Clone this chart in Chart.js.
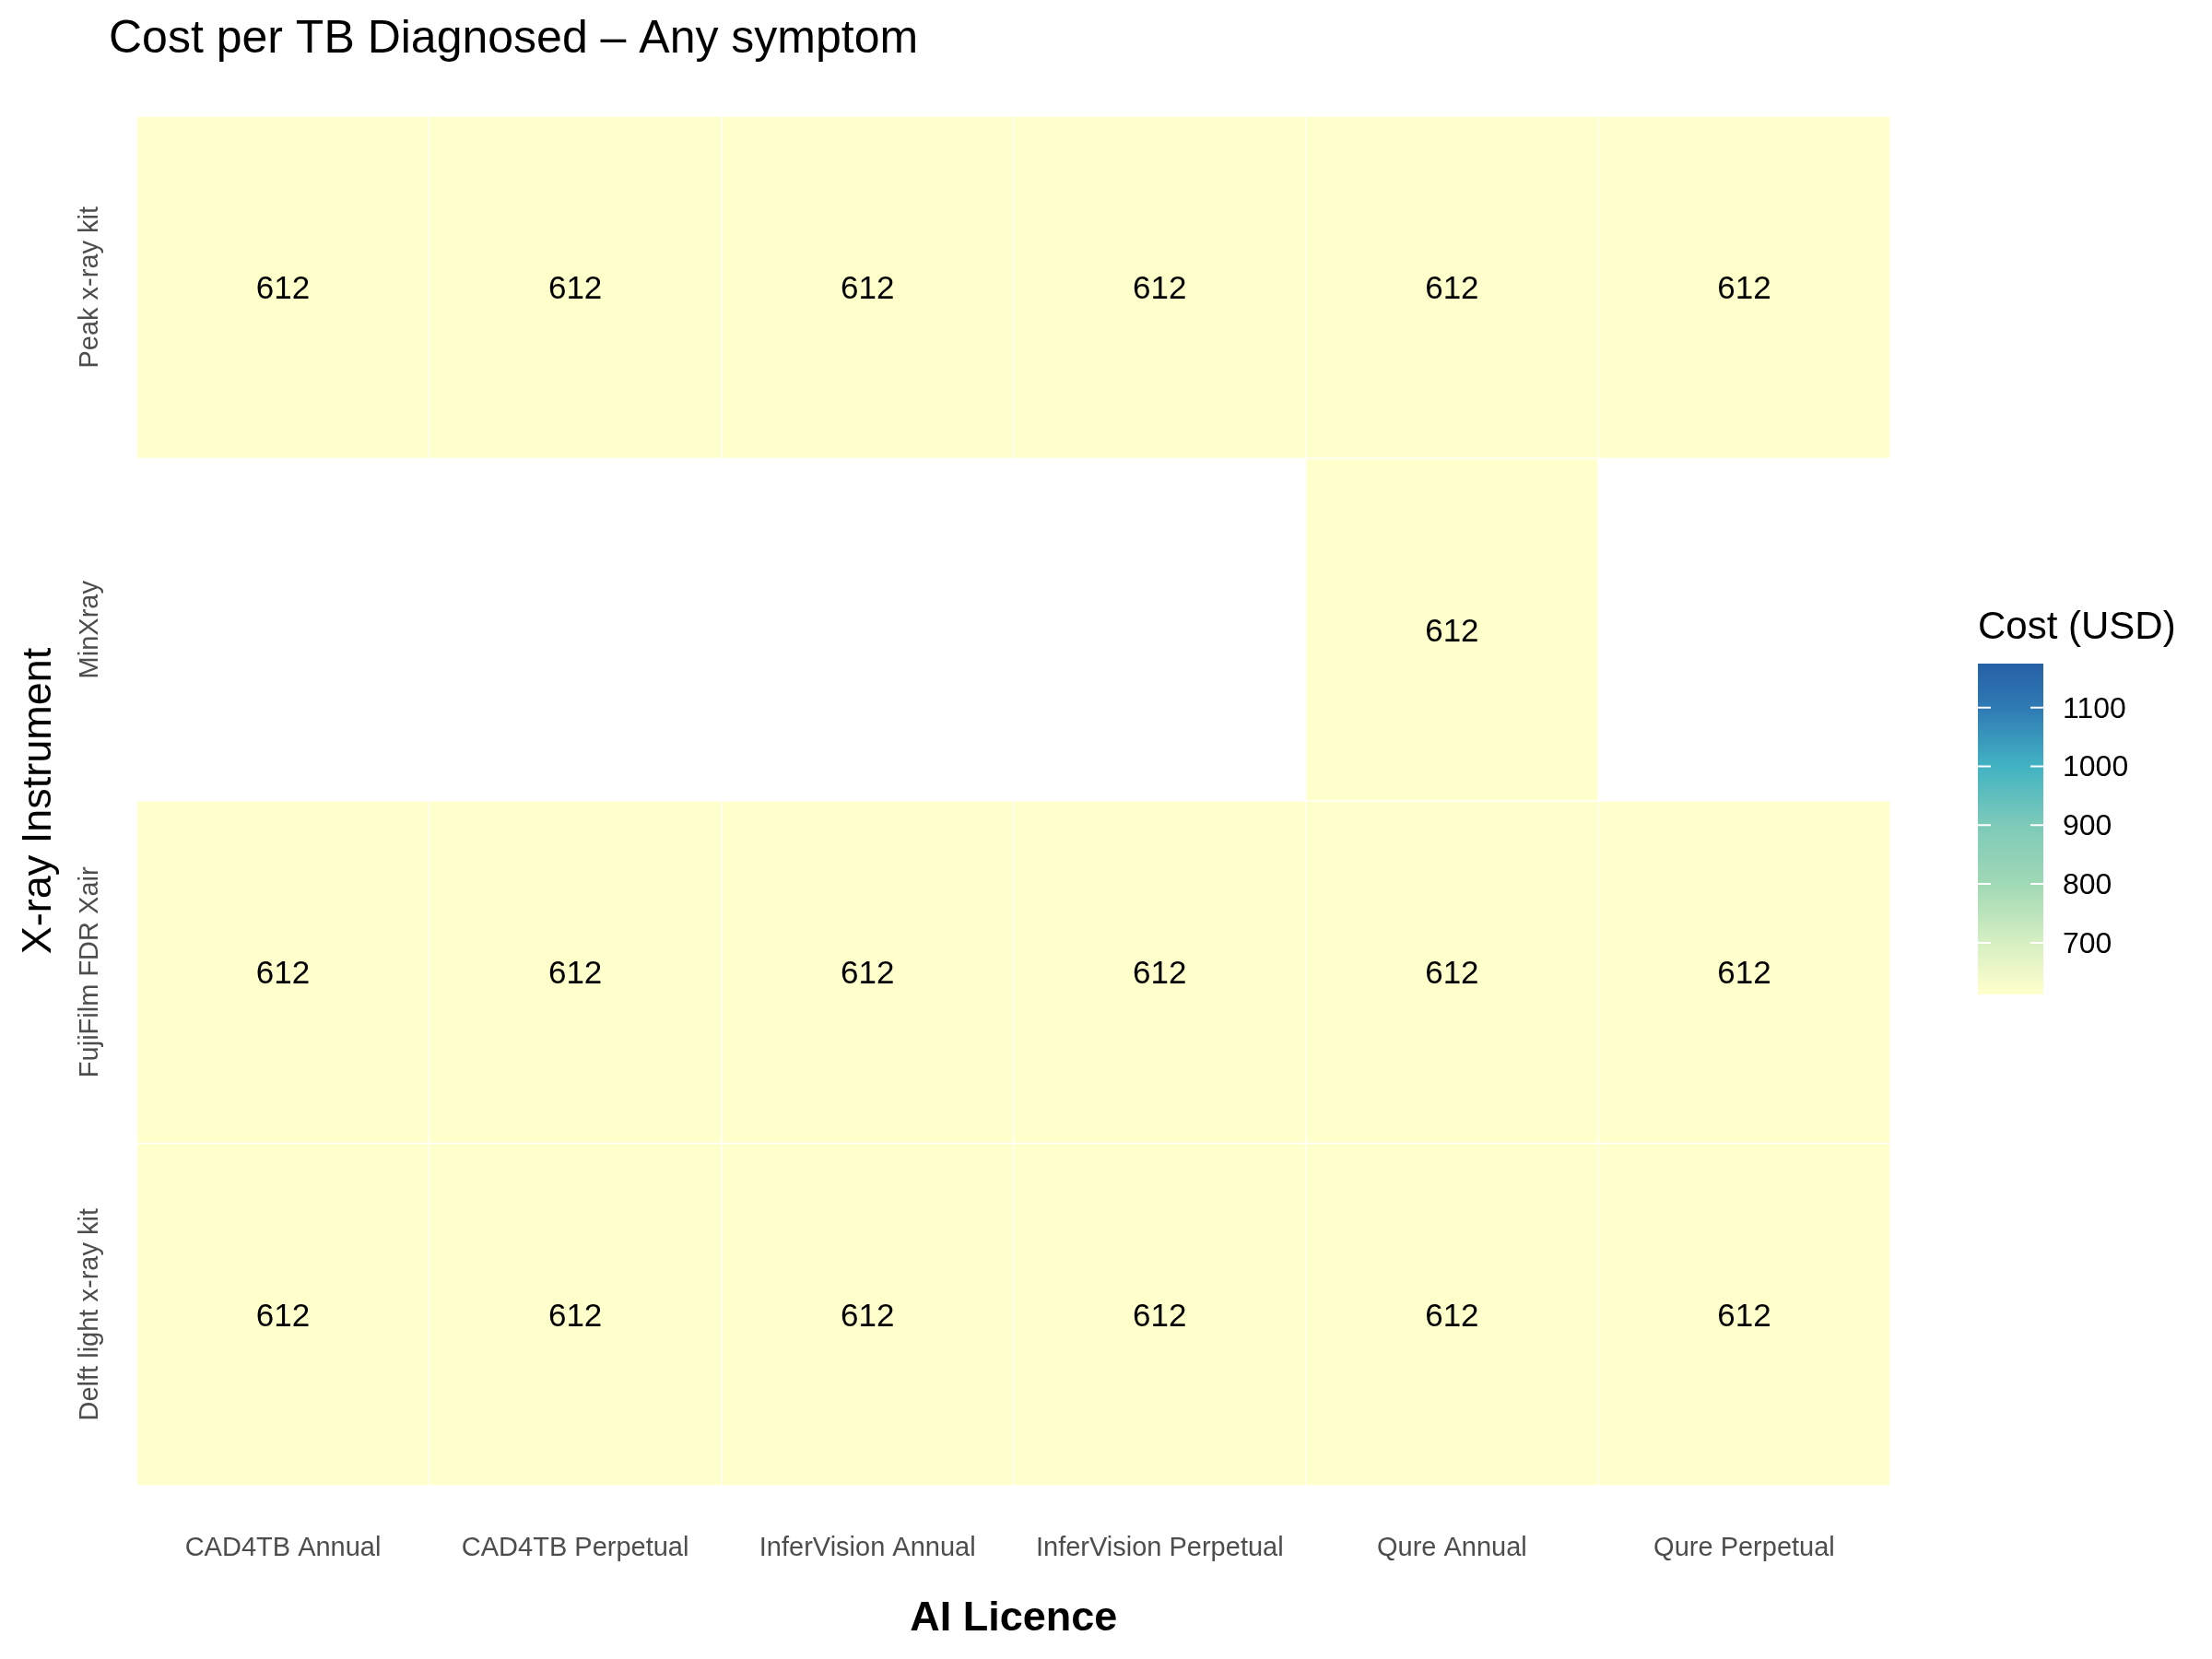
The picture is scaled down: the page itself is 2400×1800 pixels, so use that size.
<!DOCTYPE html>
<html>
<head>
<meta charset="utf-8">
<style>
  html, body { margin: 0; padding: 0; background: #ffffff; }
  #wrap { width: 2400px; height: 1800px; }
</style>
<script src="https://cdn.jsdelivr.net/npm/chart.js@4/dist/chart.umd.min.js"></script>
</head>
<body>
<div id="wrap"><canvas id="c" width="2400" height="1800"></canvas></div>
<script>
// ---------------- data ----------------
const chartTitle = 'Cost per TB Diagnosed \u2013 Any symptom';
const aiLicences = ['CAD4TB Annual', 'CAD4TB Perpetual', 'InferVision Annual', 'InferVision Perpetual', 'Qure Annual', 'Qure Perpetual'];
// rows listed bottom -> top
const instruments = ['Delft light x-ray kit', 'FujiFilm FDR Xair', 'MinXray', 'Peak x-ray kit'];
const costDelft   = [612, 612, 612, 612, 612, 612];
const costFuji    = [612, 612, 612, 612, 612, 612];
const costMinXray = [null, null, null, null, 612, null];
const costPeak    = [612, 612, 612, 612, 612, 612];
const costRows = [costDelft, costFuji, costMinXray, costPeak];
const legendTitle = 'Cost (USD)';
const legendTicks = [700, 800, 900, 1000, 1100];
const colorMin = 612;
const colorMax = 1175;
// YlGnBu-like gradient stops (fraction, colour)
const gradStops = [
  [0.000, '#FFFFCC'],
  [0.156, '#D6EFC2'],
  [0.334, '#A0D9B5'],
  [0.512, '#7DCAB9'],
  [0.689, '#42B3C3'],
  [0.867, '#2F7AB4'],
  [1.000, '#2660A6']
];

// ---------------- helpers ----------------
function hexToRgb(h) {
  const n = parseInt(h.slice(1), 16);
  return [(n >> 16) & 255, (n >> 8) & 255, n & 255];
}
function colorFor(v) {
  let t = (v - colorMin) / (colorMax - colorMin);
  t = Math.max(0, Math.min(1, t));
  for (let i = 1; i < gradStops.length; i++) {
    if (t <= gradStops[i][0]) {
      const [t0, c0] = gradStops[i - 1];
      const [t1, c1] = gradStops[i];
      const f = (t - t0) / (t1 - t0);
      const a = hexToRgb(c0), b = hexToRgb(c1);
      const r = a.map((x, k) => Math.round(x + (b[k] - x) * f));
      return 'rgb(' + r.join(',') + ')';
    }
  }
  return gradStops[gradStops.length - 1][1];
}

const FONT = '"Liberation Sans", Arial, Helvetica, sans-serif';

const datasets = costRows.map((row, i) => ({
  label: instruments[i],
  data: row.map(v => (v == null ? null : [i - 0.5, i + 0.5])),
  backgroundColor: row.map(v => (v == null ? 'rgba(0,0,0,0)' : colorFor(v))),
  borderColor: 'rgba(255,255,255,0.85)',
  borderWidth: 1,
  borderSkipped: false,
  grouped: false,
  barPercentage: 1,
  categoryPercentage: 1
}));

const decor = {
  id: 'decor',
  afterDraw(chart) {
    const ctx = chart.ctx;
    const xs = chart.scales.x, ys = chart.scales.y;
    ctx.save();
    // cell labels
    ctx.fillStyle = '#000000';
    ctx.font = '35px ' + FONT;
    ctx.textAlign = 'center';
    ctx.textBaseline = 'middle';
    costRows.forEach((row, i) => {
      row.forEach((v, j) => {
        if (v == null) return;
        ctx.fillText(String(Math.round(v)), xs.getPixelForValue(j), ys.getPixelForValue(i) + 3);
      });
    });
    // y tick labels (rotated)
    ctx.fillStyle = '#4D4D4D';
    ctx.font = '29px ' + FONT;
    instruments.forEach((name, i) => {
      ctx.save();
      ctx.translate(98, ys.getPixelForValue(i));
      ctx.rotate(-Math.PI / 2);
      ctx.textAlign = 'center';
      ctx.textBaseline = 'middle';
      ctx.fillText(name, 0, 0);
      ctx.restore();
    });
    // title
    ctx.fillStyle = '#000000';
    ctx.font = '50px ' + FONT;
    ctx.textAlign = 'left';
    ctx.textBaseline = 'alphabetic';
    ctx.fillText(chartTitle, 118, 57);
    // legend colour bar
    const barL = 2146, barR = 2217, barT = 720, barB = 1079;
    const g = ctx.createLinearGradient(0, barB, 0, barT);
    gradStops.forEach(([t, c]) => g.addColorStop(t, c));
    ctx.fillStyle = g;
    ctx.fillRect(barL, barT, barR - barL, barB - barT);
    const yOf = v => barB - (v - colorMin) / (colorMax - colorMin) * (barB - barT);
    ctx.strokeStyle = '#FFFFFF';
    ctx.lineWidth = 2;
    ctx.fillStyle = '#000000';
    ctx.font = '32px ' + FONT;
    ctx.textAlign = 'left';
    ctx.textBaseline = 'middle';
    legendTicks.forEach(v => {
      const y = yOf(v);
      ctx.beginPath();
      ctx.moveTo(barL, y); ctx.lineTo(barL + 14, y);
      ctx.moveTo(barR - 14, y); ctx.lineTo(barR, y);
      ctx.stroke();
      ctx.fillText(String(v), 2238, y + 2);
    });
    ctx.font = '42px ' + FONT;
    ctx.fillText(legendTitle, 2146, 681);
    ctx.restore();
  }
};

new Chart(document.getElementById('c'), {
  type: 'bar',
  data: { labels: aiLicences, datasets },
  options: {
    responsive: false,
    animation: false,
    maintainAspectRatio: false,
    layout: { padding: { left: 10, right: 349, top: 126, bottom: 16 } },
    plugins: { legend: { display: false }, tooltip: { enabled: false }, title: { display: false } },
    scales: {
      x: {
        type: 'category',
        offset: true,
        grid: { display: false, drawTicks: false },
        border: { display: false },
        ticks: { color: '#4D4D4D', font: { family: FONT, size: 29 }, padding: 50.6, maxRotation: 0, autoSkip: false },
        title: { display: true, text: 'AI Licence', color: '#000000', font: { family: FONT, size: 45, weight: 'bold' }, padding: { top: -18, bottom: 0 } }
      },
      y: {
        type: 'linear',
        min: -0.5,
        max: 3.5,
        grid: { display: false, drawTicks: false },
        border: { display: false },
        ticks: { display: false },
        title: { display: true, text: 'X-ray Instrument', color: '#000000', font: { family: FONT, size: 45 }, padding: { top: 6, bottom: 78.5 } }
      }
    }
  },
  plugins: [decor]
});
</script>
</body>
</html>
